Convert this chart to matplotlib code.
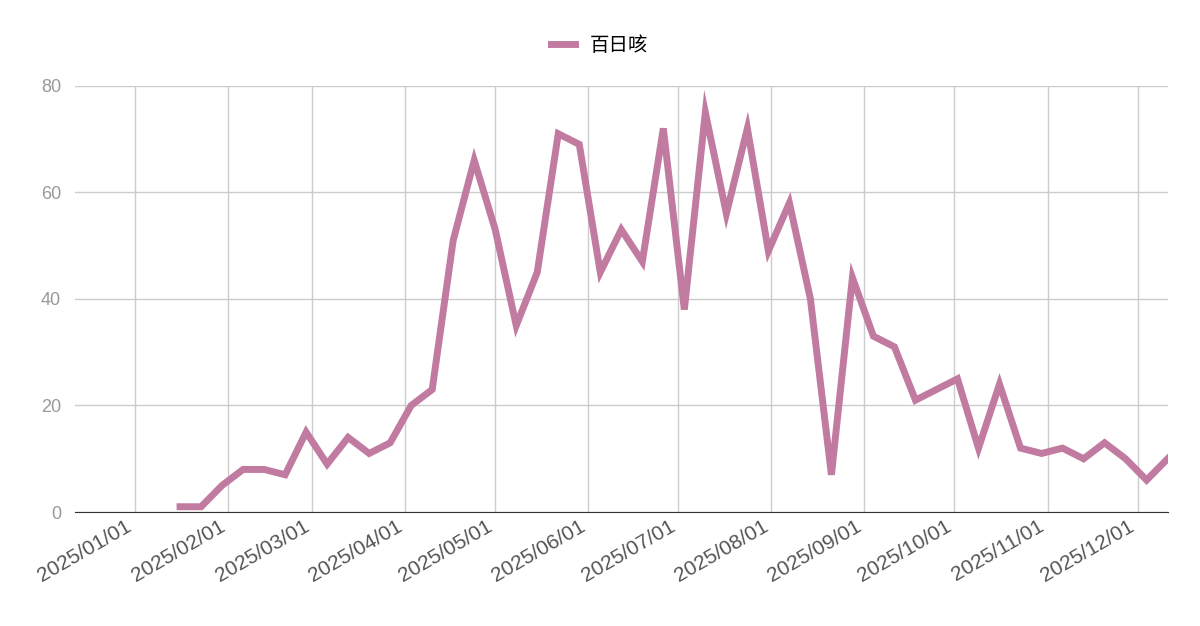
import matplotlib
matplotlib.use("Agg")
import matplotlib.pyplot as plt
import matplotlib.dates as mdates
import pandas as pd

plt.rcParams['font.family'] = ['Liberation Sans', 'Noto Sans CJK SC', 'DejaVu Sans']

start_date = "2025-01-16"
values = [1, 1, 5, 8, 8, 7, 15, 9, 14, 11, 13, 20, 23, 51, 66, 53, 35, 45, 71, 69,
          45, 53, 47, 72, 38, 75, 56, 72, 49, 58, 40, 7, 44, 33, 31, 21, 23, 25, 12, 24,
          12, 11, 12, 10, 13, 10, 6, 10]
dates = pd.date_range(start_date, periods=len(values), freq="7D")
series_name = "百日咳"
tick_dates = pd.date_range("2025-01-01", "2025-12-01", freq="MS")

fig = plt.figure(figsize=(12, 6.26), dpi=100)
ax = fig.add_axes([0.0625, 0.182, 0.9105, 0.681])
ax.plot(dates, values, color="#c27ba0", lw=5, label=series_name, solid_joinstyle="miter")
ax.set_ylim(0, 80)
ax.set_yticks([0, 20, 40, 60, 80])
ax.set_xlim(pd.Timestamp("2024-12-12"), pd.Timestamp("2025-12-11"))
ax.set_xticks(tick_dates)
ax.xaxis.set_major_formatter(mdates.DateFormatter("%Y/%m/%d"))
ax.grid(True, color="#cccccc", lw=1)
ax.set_axisbelow(True)
for s in ["top", "right", "left"]:
    ax.spines[s].set_visible(False)
ax.spines["bottom"].set_color("#333333")
ax.tick_params(axis="y", length=0, labelcolor="#999999", labelsize=13, pad=10)
ax.tick_params(axis="x", length=0, labelcolor="#555555", labelsize=15)
for lbl in ax.get_xticklabels():
    lbl.set_rotation(30)
    lbl.set_ha("right")
fig.legend(loc="upper center", bbox_to_anchor=(0.5, 0.97), frameon=False,
           fontsize=14, handlelength=1.2)
fig.savefig("out.png", dpi=100)
